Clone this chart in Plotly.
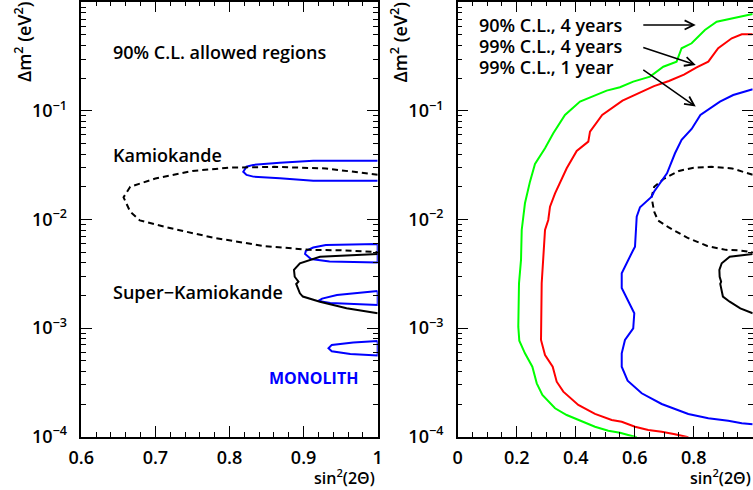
import plotly.graph_objects as go

# ---------------- data ----------------
# Kamiokande 90% C.L. allowed region (dashed)
kam_x = [1.0, 0.93, 0.86, 0.80, 0.75, 0.70, 0.666, 0.657, 0.666, 0.679, 0.714, 0.778, 0.846, 0.909, 0.951, 1.0]
kam_y = [0.0258, 0.0295, 0.0305, 0.0300, 0.0280, 0.0238, 0.0200, 0.0160, 0.0118, 0.0098, 0.0085, 0.0068, 0.0057, 0.00525, 0.0052, 0.00500]

# Super-Kamiokande 90% C.L. allowed region (solid black)
sk_x = [1.0, 0.94, 0.922, 0.895, 0.887, 0.888, 0.893, 0.890, 0.895, 0.899, 0.922, 0.958, 1.0]
sk_y = [0.00481, 0.0046, 0.00454, 0.00395, 0.00343, 0.00297, 0.00267, 0.00255, 0.00209, 0.00195, 0.00175, 0.00152, 0.00137]

# MONOLITH best-fit islands (left panel, blue)
mono1_x = [1.0, 0.913, 0.868, 0.832, 0.823, 0.8186, 0.823, 0.832, 0.868, 0.913, 1.0]
mono1_y = [0.0348, 0.0348, 0.0333, 0.0318, 0.0306, 0.0275, 0.0257, 0.0248, 0.0239, 0.0227, 0.0227]
mono2_x = [1.0, 0.930, 0.913, 0.903, 0.902, 0.910, 0.935, 0.980, 1.0, 1.0]
mono2_y = [0.00595, 0.00582, 0.00552, 0.00513, 0.00481, 0.00432, 0.00410, 0.00402, 0.00402, 0.00595]
mono3_x = [1.0, 0.977, 0.945, 0.925, 0.920, 0.936, 0.967, 0.997, 1.0, 1.0]
mono3_y = [0.00220, 0.00213, 0.00202, 0.00187, 0.00178, 0.00170, 0.00166, 0.00163, 0.00163, 0.00220]
mono4_x = [1.0, 0.967, 0.938, 0.9336, 0.938, 0.963, 1.0, 1.0]
mono4_y = [0.000760, 0.000737, 0.000700, 0.000652, 0.000612, 0.000577, 0.000559, 0.000760]

# MONOLITH sensitivity, 90% C.L., 4 years (green)
g90_x = [1.0, 0.878, 0.838, 0.793, 0.759, 0.742, 0.697, 0.652, 0.595, 0.550, 0.505, 0.4146, 0.3637,
         0.324, 0.296, 0.262, 0.245, 0.228, 0.217, 0.2146, 0.2078, 0.2054, 0.2088, 0.228, 0.253,
         0.268, 0.287, 0.330, 0.3695, 0.420, 0.4654, 0.5105, 0.550, 0.578, 0.607]
g90_y = [0.780, 0.662, 0.556, 0.419, 0.377, 0.284, 0.255, 0.2065, 0.186, 0.165, 0.1535, 0.1217, 0.0916,
         0.0622, 0.0453, 0.0324, 0.0223, 0.0141, 0.0080, 0.00424, 0.002585, 0.00103, 0.000766, 0.000586, 0.000441,
         0.000310, 0.000242, 0.0001826, 0.0001584, 0.0001395, 0.0001236, 0.0001136, 0.0001088, 0.0001037, 0.0000987]

# MONOLITH sensitivity, 99% C.L., 4 years (red)
r99_x = [1.0, 0.963, 0.929, 0.883, 0.8495, 0.810, 0.767, 0.716, 0.6654, 0.6237, 0.5586, 0.4898, 0.4485,
         0.4427, 0.4034, 0.3695, 0.330, 0.3129, 0.307, 0.296, 0.290, 0.2847, 0.2824, 0.296, 0.322,
         0.3356, 0.358, 0.4088, 0.4654, 0.522, 0.556, 0.601, 0.646, 0.6915, 0.7366, 0.782]
r99_y = [0.507, 0.507, 0.466, 0.377, 0.284, 0.251, 0.2154, 0.1885, 0.1688, 0.1502, 0.124, 0.0916, 0.0643,
         0.0521, 0.0427, 0.0296, 0.0174, 0.0131, 0.0099, 0.0080, 0.00424, 0.002585, 0.000777, 0.000565, 0.000441,
         0.000321, 0.000260, 0.000196, 0.000162, 0.0001425, 0.0001374, 0.0001236, 0.0001153, 0.0001112, 0.0001052, 0.0000987]

# MONOLITH sensitivity, 99% C.L., 1 year (blue)
b99_x = [1.0, 0.934, 0.889, 0.855, 0.8227, 0.793, 0.759, 0.7366, 0.7095, 0.6654, 0.6576, 0.618, 0.6068,
         0.601, 0.595, 0.556, 0.556, 0.5986, 0.595, 0.567, 0.556, 0.556, 0.576, 0.6237, 0.6915,
         0.7817, 0.8495, 0.917, 0.963, 1.0]
b99_y = [0.158, 0.140, 0.1217, 0.1057, 0.0916, 0.0681, 0.054, 0.0407, 0.0266, 0.0180, 0.0162, 0.01295, 0.01061,
         0.00562, 0.00524, 0.0032, 0.00234, 0.00137, 0.000995, 0.000777, 0.000586, 0.000441, 0.000328, 0.000251, 0.000200,
         0.000162, 0.0001477, 0.0001404, 0.0001329, 0.000130]

y_tickvals = [1e-4, 1e-3, 1e-2, 1e-1]
y_ticktext = ["10<sup>−4</sup>", "10<sup>−3</sup>", "10<sup>−2</sup>", "10<sup>−1</sup>"]

# ---------------- figure ----------------
W, H = 753, 490
FONT = "Open Sans, Liberation Sans, Arial, sans-serif"
WEIGHT = 600
BLUE, RED, GREEN = "#0000ff", "#ff0000", "#00ff00"

fig = go.Figure()

def add(x, y, color, ax, dash="solid", width=2):
    fig.add_trace(go.Scatter(x=x, y=y, mode="lines", xaxis="x" + ax, yaxis="y" + ax,
                             line=dict(color=color, width=width, dash=dash),
                             showlegend=False, hoverinfo="skip"))

# left panel
for ix, iy in [(mono1_x, mono1_y), (mono2_x, mono2_y), (mono3_x, mono3_y), (mono4_x, mono4_y)]:
    add(ix, iy, BLUE, "")
add(kam_x, kam_y, "black", "", dash="6px,4px")
add(sk_x, sk_y, "black", "")

# right panel
add(kam_x, kam_y, "black", "2", dash="6px,4px")
add(sk_x, sk_y, "black", "2")
add(g90_x, g90_y, GREEN, "2")
add(r99_x, r99_y, RED, "2")
add(b99_x, b99_y, BLUE, "2")

ydom = [1 - 436.7 / H, 1 - 1.7 / H]
TICKFONT = dict(family=FONT, size=18, color="black", weight=WEIGHT)

def xax(domain, rng, dtick, mdtick, anchor):
    return dict(domain=domain, range=rng, dtick=dtick, tick0=0, anchor=anchor, automargin=False,
                showline=True, linecolor="black", linewidth=1.5, mirror="ticks",
                ticks="inside", ticklen=11, tickwidth=1.2, tickcolor="black",
                minor=dict(dtick=mdtick, tick0=0, ticks="inside", ticklen=5, tickwidth=1.2, tickcolor="black"),
                showgrid=False, zeroline=False, ticklabelstandoff=4, tickfont=TICKFONT)

def yax(anchor):
    return dict(domain=ydom, type="log", range=[-4, 0.005], anchor=anchor, automargin=False,
                tickmode="array", tickvals=y_tickvals, ticktext=y_ticktext,
                showline=True, linecolor="black", linewidth=1.5, mirror="ticks",
                ticks="inside", ticklen=11, tickwidth=1.2, tickcolor="black",
                minor=dict(dtick="D1", ticks="inside", ticklen=5, tickwidth=1.2, tickcolor="black"),
                showgrid=False, zeroline=False, ticklabelstandoff=9, tickfont=TICKFONT)

fig.update_layout(
    width=W, height=H, margin=dict(l=0, r=0, t=0, b=0, autoexpand=False),
    paper_bgcolor="white", plot_bgcolor="white",
    font=dict(family=FONT, color="black"),
    xaxis=xax([81.3 / W, 377.7 / W], [0.6, 1.0], 0.1, 0.02, "y"),
    yaxis=yax("x"),
    xaxis2=xax([457.7 / W, 752.7 / W], [0.0, 1.0], 0.2, 0.05, "y2"),
    yaxis2=yax("x2"),
)

ann = []
def txt(px, py, s, size=18, color="black", xanchor="left", weight=WEIGHT, angle=0, yanchor="middle"):
    ann.append(dict(x=px / W, y=1 - py / H, xref="paper", yref="paper", text=s, showarrow=False,
                    xanchor=xanchor, yanchor=yanchor, textangle=angle,
                    font=dict(family=FONT, size=size, color=color, weight=weight)))

txt(111, 52, "90% C.L. allowed regions")
txt(111, 155, "Kamiokande")
txt(111, 292, "Super−Kamiokande")
txt(267, 378, "MONOLITH", size=16, color=BLUE, weight="bold")
txt(477, 25, "90% C.L., 4 years")
txt(477, 45.5, "99% C.L., 4 years")
txt(477, 67, "99% C.L., 1 year")
# axis titles
txt(22.5, 0.5, "Δm<sup>2</sup> (eV<sup>2</sup>)", size=18, xanchor="center", angle=-90, yanchor="top")
txt(399, 0.5, "Δm<sup>2</sup> (eV<sup>2</sup>)", size=18, xanchor="center", angle=-90, yanchor="top")
txt(377, 477, "sin<sup>2</sup>(2Θ)", size=16, xanchor="right")
txt(753, 477, "sin<sup>2</sup>(2Θ)", size=16, xanchor="right")

# arrows pointing from legend text to the curves (right panel, data coords)
arrows = [((0.624, -0.209), (0.807, -0.209)),
          ((0.624, -0.4116), (0.807, -0.577)),
          ((0.624, -0.614), (0.807, -0.961))]
for (tx, ty), (hx, hy) in arrows:
    ann.append(dict(x=hx, y=hy, ax=tx, ay=ty, xref="x2", yref="y2", axref="x2", ayref="y2",
                    text="", showarrow=True, arrowhead=5, arrowsize=1.2, arrowwidth=1.5,
                    arrowcolor="black"))

fig.update_layout(annotations=ann)
fig.write_html("out.html", config={"displayModeBar": False},
               post_script="document.body.style.margin='0';document.body.style.overflow='hidden';")
